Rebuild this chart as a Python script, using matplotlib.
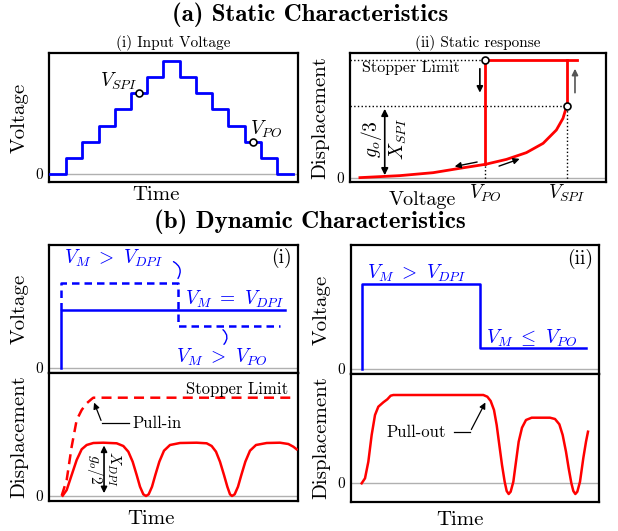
import numpy as np
import matplotlib
matplotlib.use("Agg")
import matplotlib.pyplot as plt

plt.rcParams['font.family'] = 'serif'
plt.rcParams['font.serif'] = ['cmr10']
plt.rcParams['mathtext.fontset'] = 'cm'
plt.rcParams['axes.unicode_minus'] = False
plt.rcParams['axes.linewidth'] = 1.6

W, H = 618, 531
BLUE = '#0000ff'
RED = '#ff0000'
GRAY = '#b0b0b0'

# (a)(i) staircase input voltage
step_times = [0, 1, 2, 3, 4, 5, 6, 7, 8, 9, 10, 11, 12, 13, 14, 15]
step_levels = [0, 1, 2, 3, 4, 5, 6, 7, 6, 5, 4, 3, 2, 1, 0, 0]
spi_mark = (5.5, 5)
po_mark = (12.5, 2)

# (a)(ii) static response (voltage, displacement)
v_curve = [0.0, 0.193, 0.354, 0.483, 0.607, 0.709, 0.805, 0.886, 0.95, 0.982, 1.0]
x_curve = [0.003, 0.02, 0.045, 0.082, 0.116, 0.158, 0.215, 0.294, 0.407, 0.506, 0.61]
v_po, v_spi = 0.607, 1.0
x_po, x_spi, x_stop = 0.116, 0.61, 1.0
v_end = 1.05

# (b)(i) voltage inputs
b1_solid_t = [0.48, 0.48, 9.48]
b1_solid_v = [0.0, 0.57, 0.57]
b1_dash_t = [0.48, 0.48, 5.18, 5.18, 9.28]
b1_dash_v = [0.57, 0.83, 0.83, 0.41, 0.41]

# (b)(i) displacement responses
b1_pullin_t = [0.509, 0.71, 0.91, 1.111, 1.312, 1.513, 1.713, 1.781, 9.81]
b1_pullin_x = [0.003, 0.16, 0.493, 0.76, 0.86, 0.927, 0.97, 0.983, 0.983]
b1_osc_t = [0.549, 0.71, 0.91, 1.111, 1.312, 1.513, 1.781, 2.182, 2.718, 2.985, 3.186,
            3.36, 3.521, 3.655, 3.788, 3.896, 4.003, 4.137, 4.27, 4.431, 4.618, 4.859,
            5.261, 5.93, 6.332, 6.533, 6.707, 6.867, 7.028, 7.162, 7.269, 7.349, 7.456,
            7.59, 7.724, 7.885, 8.072, 8.313, 8.742, 9.277, 9.612, 9.813, 9.946]
b1_osc_x = [0.003, 0.06, 0.21, 0.36, 0.467, 0.51, 0.53, 0.533, 0.527, 0.50, 0.443,
            0.343, 0.21, 0.093, 0.017, 0.0, 0.017, 0.093, 0.21, 0.343, 0.453, 0.51,
            0.53, 0.533, 0.527, 0.50, 0.443, 0.343, 0.21, 0.093, 0.017, 0.0, 0.017,
            0.093, 0.21, 0.343, 0.453, 0.51, 0.53, 0.533, 0.52, 0.493, 0.467]

# (b)(ii) voltage input
b2_t = [0.44, 0.44, 5.2, 5.2, 9.48]
b2_v = [0.0, 0.83, 0.83, 0.205, 0.205]

# (b)(ii) displacement response
b2_resp_t = [0.43, 0.565, 0.699, 0.833, 0.968, 1.102, 1.304, 1.465, 1.599, 1.707, 5.336,
             5.497, 5.632, 5.766, 5.874, 5.981, 6.089, 6.196, 6.277, 6.358, 6.438, 6.546,
             6.653, 6.761, 6.895, 7.056, 7.285, 8.024, 8.226, 8.401, 8.535, 8.669, 8.777,
             8.884, 8.965, 9.046, 9.126, 9.234, 9.368, 9.476, 9.556]
b2_resp_x = [-0.003, 0.047, 0.213, 0.48, 0.68, 0.763, 0.807, 0.837, 0.873, 0.88, 0.88,
             0.863, 0.82, 0.73, 0.58, 0.38, 0.18, 0.013, -0.08, -0.11, -0.087, 0.013,
             0.213, 0.413, 0.553, 0.63, 0.653, 0.653, 0.64, 0.587, 0.48, 0.313, 0.147,
             0.0, -0.08, -0.11, -0.087, 0.013, 0.25, 0.413, 0.513]


def px_rect(l, t, r, b):
    return [l / W, 1 - b / H, (r - l) / W, (b - t) / H]


def setup(ax, xlim, ylim):
    ax.set_xlim(*xlim)
    ax.set_ylim(*ylim)
    ax.set_xticks([])
    ax.set_yticks([0])
    ax.set_yticklabels(['0'], fontsize=11)
    ax.tick_params(axis='y', length=0, pad=4)
    ax.axhline(0, color=GRAY, lw=1, zorder=1)


fig = plt.figure(figsize=(W / 100, H / 100), dpi=100)

fig.text(310 / W, 1 - 15 / H, '(a) Static Characteristics', ha='center', va='center',
         family='cmb10', fontsize=18)
fig.text(310 / W, 1 - 222 / H, '(b) Dynamic Characteristics', ha='center', va='center',
         family='cmb10', fontsize=18)

# ---- (a)(i)
ax = fig.add_axes(px_rect(49, 53, 298, 182))
setup(ax, (-0.06, 15.3), (-0.5, 7.5))
ax.step(step_times, step_levels, where='post', color=BLUE, lw=2, zorder=3)
for m in (spi_mark, po_mark):
    ax.plot(*m, 'o', ms=5, mfc='white', mec='black', mew=1.2, zorder=4)
ax.text(spi_mark[0] - 0.1, spi_mark[1] + 0.1, '$V_{SPI}$', ha='right', va='bottom', fontsize=14)
ax.text(po_mark[0] - 0.15, po_mark[1] + 0.1, '$V_{PO}$', ha='left', va='bottom', fontsize=14)
ax.set_title('(i) Input Voltage', fontsize=11, pad=4)
ax.set_ylabel('Voltage', fontsize=15, labelpad=5)
ax.text(0.43, -0.03, 'Time', transform=ax.transAxes, ha='center', va='top', fontsize=15)

# ---- (a)(ii)
ax = fig.add_axes(px_rect(350, 53, 606, 182))
setup(ax, (-0.048, 1.19), (-0.034, 1.06))
ax.plot(v_curve, x_curve, color=RED, lw=2, zorder=3)
ax.plot([v_po, v_po, v_end], [x_po, x_stop, x_stop], color=RED, lw=2, zorder=3)
ax.plot([v_spi, v_spi], [x_spi, x_stop], color=RED, lw=2, zorder=3)
ax.plot([-0.048, v_po], [x_stop, x_stop], ls=':', color='black', lw=1, zorder=2)
ax.plot([-0.048, v_spi], [x_spi, x_spi], ls=':', color='black', lw=1, zorder=2)
ax.plot([v_po, v_po], [-0.034, x_po], ls=':', color='black', lw=1, zorder=2)
ax.plot([v_spi, v_spi], [-0.034, x_spi], ls=':', color='black', lw=1, zorder=2)
ax.plot(v_po, x_stop, 'o', ms=5, mfc='white', mec='black', mew=1.2, zorder=4)
ax.plot(v_spi, x_spi, 'o', ms=5, mfc='white', mec='black', mew=1.2, zorder=4)
ax.text(0.01, 0.93, 'Stopper Limit', fontsize=11.5, va='center', ha='left')
ax.annotate('', xy=(0.12, 0.0), xytext=(0.12, x_spi),
            arrowprops=dict(arrowstyle='<|-|>', color='black', lw=1.2, mutation_scale=10))
ax.text(0.055, 0.33, '$g_o/3$', rotation=90, ha='center', va='center', fontsize=14)
ax.text(0.185, 0.33, '$X_{SPI}$', rotation=90, ha='center', va='center', fontsize=14)
ax.annotate('', xy=(0.58, 0.70), xytext=(0.58, 0.95),
            arrowprops=dict(arrowstyle='-|>', color='black', lw=1.2, mutation_scale=9))
ax.annotate('', xy=(1.04, 0.95), xytext=(1.04, 0.70),
            arrowprops=dict(arrowstyle='-|>', color='#555555', lw=1.2, mutation_scale=9))
ax.annotate('', xy=(0.445, 0.093), xytext=(0.58, 0.14),
            arrowprops=dict(arrowstyle='-|>', color='black', lw=1.0, mutation_scale=9))
ax.annotate('', xy=(0.785, 0.17), xytext=(0.66, 0.093),
            arrowprops=dict(arrowstyle='-|>', color='black', lw=1.0, mutation_scale=9))
ax.set_title('(ii) Static response', fontsize=11, pad=4)
ax.set_ylabel('Displacement', fontsize=15, labelpad=5)
ax.text(v_po, -0.04, '$V_{PO}$', ha='center', va='top', fontsize=14)
ax.text(v_spi, -0.04, '$V_{SPI}$', ha='center', va='top', fontsize=14)
ax.text(0.30, -0.11, 'Voltage', ha='center', va='top', fontsize=14.5)

# ---- (b)(i) voltage
ax = fig.add_axes(px_rect(49, 245, 298, 373))
setup(ax, (0, 10), (-0.05, 1.2))
ax.plot(b1_solid_t, b1_solid_v, color=BLUE, lw=1.8, zorder=3)
ax.plot(b1_dash_t, b1_dash_v, color=BLUE, lw=1.8, ls=(0, (3, 2)), zorder=3)
ax.text(0.6, 1.07, r'$V_M\ >\ V_{DPI}$', color=BLUE, fontsize=14, ha='left', va='center')
ax.annotate('', xy=(5.12, 0.85), xytext=(4.9, 1.05),
            arrowprops=dict(arrowstyle='-', color=BLUE, lw=1, connectionstyle='arc3,rad=-0.6'))
ax.text(5.45, 0.67, r'$V_M\ =\ V_{DPI}$', color=BLUE, fontsize=14, ha='left', va='center')
ax.text(5.1, 0.10, r'$V_M\ >\ V_{PO}$', color=BLUE, fontsize=14, ha='left', va='center')
ax.annotate('', xy=(6.95, 0.21), xytext=(6.9, 0.39),
            arrowprops=dict(arrowstyle='-', color=BLUE, lw=1, connectionstyle='arc3,rad=-0.6'))
ax.text(9.75, 1.07, '(i)', fontsize=14, ha='right', va='center')
ax.set_ylabel('Voltage', fontsize=15, labelpad=5)

# ---- (b)(i) displacement
ax = fig.add_axes(px_rect(49, 373, 298, 501))
setup(ax, (0, 10), (-0.05, 1.23))
ax.plot(b1_pullin_t, b1_pullin_x, color=RED, lw=1.8, ls=(0, (4, 2.5)), zorder=3)
ax.plot(b1_osc_t, b1_osc_x, color=RED, lw=1.8, zorder=3)
ax.text(9.6, 1.07, 'Stopper Limit', fontsize=12, ha='right', va='center')
ax.text(3.37, 0.73, 'Pull-in', fontsize=12, ha='left', va='center')
ax.plot([3.2, 2.13], [0.73, 0.73], color='black', lw=0.9)
ax.annotate('', xy=(1.77, 0.96), xytext=(2.13, 0.73),
            arrowprops=dict(arrowstyle='-|>', color='black', lw=0.9, mutation_scale=9))
ax.annotate('', xy=(2.21, 0.0), xytext=(2.21, 0.533),
            arrowprops=dict(arrowstyle='<|-|>', color='black', lw=1.2, mutation_scale=9))
ax.text(1.85, 0.27, '$g_o/2$', rotation=-90, ha='center', va='center', fontsize=11)
ax.text(2.62, 0.27, '$X_{DPI}$', rotation=-90, ha='center', va='center', fontsize=11)
ax.set_ylabel('Displacement', fontsize=15, labelpad=5)
ax.text(0.41, -0.07, 'Time', transform=ax.transAxes, ha='center', va='top', fontsize=15)

# ---- (b)(ii) voltage
ax = fig.add_axes(px_rect(351, 245, 599, 374))
setup(ax, (0, 10), (-0.049, 1.21))
ax.plot(b2_t, b2_v, color=BLUE, lw=1.8, zorder=3)
ax.text(0.65, 0.93, r'$V_M\ >\ V_{DPI}$', color=BLUE, fontsize=14, ha='left', va='center')
ax.text(5.45, 0.30, r'$V_M\ \leq\ V_{PO}$', color=BLUE, fontsize=14, ha='left', va='center')
ax.text(9.75, 1.07, '(ii)', fontsize=14, ha='right', va='center')
ax.set_ylabel('Voltage', fontsize=15, labelpad=5)

# ---- (b)(ii) displacement
ax = fig.add_axes(px_rect(351, 374, 599, 502))
setup(ax, (0, 10), (-0.19, 1.09))
ax.plot(b2_resp_t, b2_resp_x, color=RED, lw=1.8, zorder=3)
ax.text(1.45, 0.51, 'Pull-out', fontsize=12, ha='left', va='center')
ax.plot([4.15, 4.8], [0.51, 0.51], color='black', lw=0.9)
ax.annotate('', xy=(5.47, 0.83), xytext=(4.8, 0.51),
            arrowprops=dict(arrowstyle='-|>', color='black', lw=0.9, mutation_scale=9))
ax.set_ylabel('Displacement', fontsize=15, labelpad=5)
ax.text(0.44, -0.07, 'Time', transform=ax.transAxes, ha='center', va='top', fontsize=15)

fig.savefig('out.png', dpi=100)
